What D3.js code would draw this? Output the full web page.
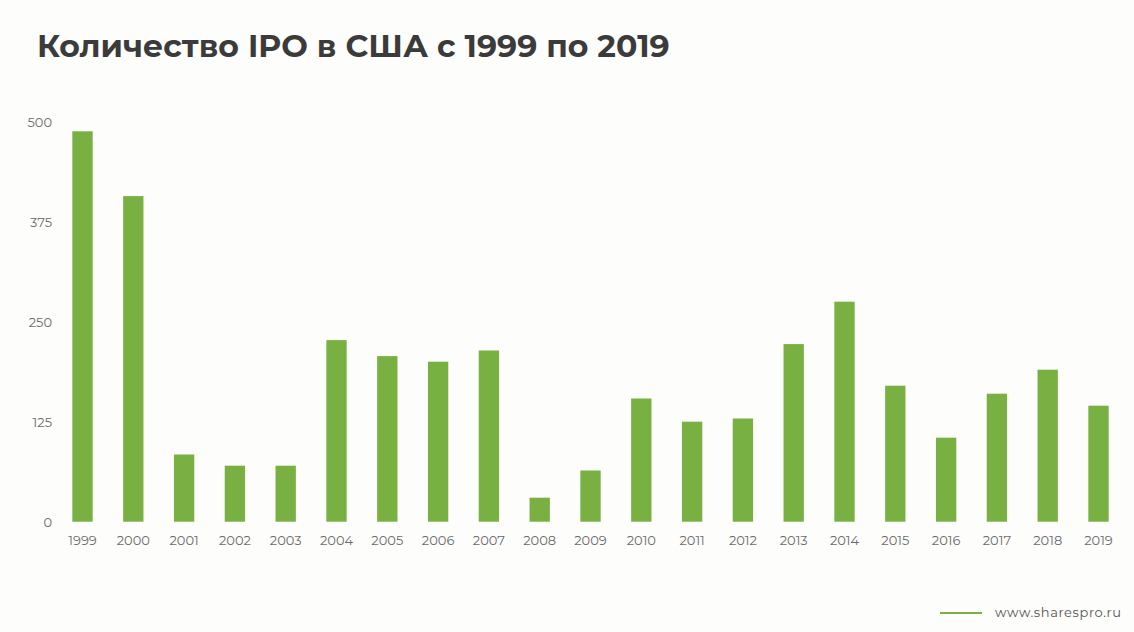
<!DOCTYPE html>
<html>
<head>
<meta charset="utf-8">
<script src="https://cdn.jsdelivr.net/npm/d3@7/dist/d3.min.js"></script>
<style>
  html, body { margin: 0; padding: 0; background: #fdfdfb; }
  svg { display: block; }
</style>
</head>
<body>
<svg id="chart" width="1134" height="632"></svg>
<script>
const title = "Количество IPO в США с 1999 по 2019";
const years = ["1999","2000","2001","2002","2003","2004","2005","2006","2007","2008","2009","2010","2011","2012","2013","2014","2015","2016","2017","2018","2019"];
const ipoCounts = [488, 407, 84, 70, 70, 227, 207, 200, 214, 30, 64, 154, 125, 129, 222, 275, 170, 105, 160, 190, 145];
const yTicks = [0, 125, 250, 375, 500];
const legendLabel = "www.sharespro.ru";

const svg = d3.select("#chart");
const W = 1134, H = 632;
svg.append("rect").attr("width", W).attr("height", H).attr("fill", "#fdfdfb");

const barColor = "#78b042";
const textColor = "#6b6b6b";
const fontLabel = "Montserrat, 'Open Sans', 'Noto Sans', sans-serif";

// Title
const t = svg.append("text")
  .attr("x", 37).attr("y", 57)
  .attr("font-family", fontLabel)
  .attr("font-weight", 700)
  .attr("font-size", 34)
  .attr("fill", "#3b3b3b")
  .text(title);
const tw = t.node().getComputedTextLength();
t.attr("font-size", 34 * 633 / tw);

// Scales
const step = 50.8;
const x0 = 82.5 - step / 2;
const x = d3.scaleBand()
  .domain(years)
  .range([x0, x0 + step * years.length])
  .paddingInner(0.6)
  .paddingOuter(0.3);

const y = d3.scaleLinear().domain([0, 500]).range([521.7, 121.7]);

// Bars
svg.append("g").selectAll("rect")
  .data(years)
  .join("rect")
  .attr("x", (d) => x(d))
  .attr("width", x.bandwidth())
  .attr("y", (d, i) => y(ipoCounts[i]))
  .attr("height", (d, i) => y(0) - y(ipoCounts[i]))
  .attr("fill", barColor);

// Y axis
const yAxis = d3.axisLeft(y).tickValues(yTicks).tickSize(0).tickPadding(0).tickFormat(d3.format("d"));
const yg = svg.append("g").attr("transform", "translate(52,0)").call(yAxis);
yg.select(".domain").remove();
yg.selectAll("text")
  .attr("font-family", fontLabel)
  .attr("font-size", 13)
  .attr("fill", textColor)
  .attr("dy", "0.35em");

// X axis
const xAxis = d3.axisBottom(x).tickSize(0).tickPadding(0);
const xg = svg.append("g").attr("transform", "translate(0,536)").call(xAxis);
xg.select(".domain").remove();
xg.selectAll("text")
  .attr("font-family", fontLabel)
  .attr("font-size", 13)
  .attr("fill", textColor)
  .attr("dy", "0.71em");

// Legend
const lg = svg.append("g");
lg.append("line")
  .attr("x1", 940).attr("x2", 982)
  .attr("y1", 613).attr("y2", 613)
  .attr("stroke", barColor).attr("stroke-width", 2);
lg.append("text")
  .attr("x", 995).attr("y", 617)
  .attr("font-family", fontLabel)
  .attr("font-size", 13)
  .attr("letter-spacing", 0.6)
  .attr("fill", "#555")
  .text(legendLabel);
</script>
</body>
</html>
